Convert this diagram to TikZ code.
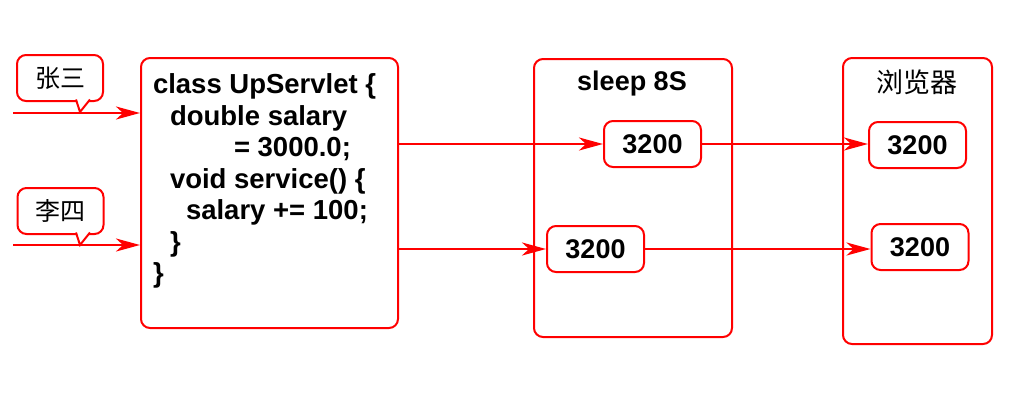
\documentclass[tikz,border=0pt]{standalone}
\usepackage{fontspec}
\setmainfont{Liberation Sans}
\newfontfamily\cjk{Noto Sans CJK SC}
\usetikzlibrary{arrows.meta}

\tikzset{every picture/.style={line width=2pt}}
\tikzset{
	box/.style={draw=red, rounded corners=9pt, line width=2pt, inner sep=0pt},
	valbox/.style={box, minimum width=97pt, minimum height=46pt, font=\fontsize{27}{30}\selectfont\bfseries},
	callout/.style={box, minimum width=86pt, minimum height=46pt, font=\cjk\fontsize{25}{27}\selectfont},
	tail/.style={draw=red, fill=white, line width=2pt, line join=miter},
	arr/.style={draw=red, line width=2.6pt, -{Stealth[length=24pt,width=13pt,inset=7pt]}}
}

\begin{document}
\begin{tikzpicture}[x=1pt,y=1pt,yscale=-1,xscale=1]
	\useasboundingbox (0,0) rectangle (1024,413);

	%Callouts
	\node [callout] (zs) at (60,78) {张三};
	\draw [tail] (76,99.5) -- (80,112) -- (90,99.5) ;
	\node [callout] (ls) at (60.5,211) {李四};
	\draw [tail] (76,232.5) -- (80,245) -- (90,232.5) ;

	%Servlet box
	\node [box, minimum width=257pt, minimum height=270pt] (servlet) at (269.5,193) {};
	\node [anchor=north west, inner sep=0pt, align=left, font=\fontsize{27.5}{31.5}\selectfont\bfseries] (code) at (152,73)
		{class UpServlet \{\\
		\hspace*{17pt}double salary\\
		\hspace*{81pt}= 3000.0;\\
		\hspace*{17pt}void service() \{\\
		\hspace*{33pt}salary += 100;\\
		\hspace*{17pt}\}\\
		\}};

	%Sleep box
	\node [box, minimum width=198pt, minimum height=278pt] (sleep) at (633,198) {};
	\node [font=\fontsize{27}{30}\selectfont\bfseries] (sleeptitle) at (632,84) {sleep 8S};
	\node [valbox] (sleepA) at (652.5,144) {3200};
	\node [valbox] (sleepB) at (595.5,249) {3200};

	%Browser box
	\node [box, minimum width=149pt, minimum height=286pt] (browser) at (917.5,201) {};
	\node [font=\cjk\fontsize{27}{29}\selectfont] (browsertitle) at (917,82) {浏览器};
	\node [valbox] (browserA) at (917.5,145) {3200};
	\node [valbox] (browserB) at (920,247) {3200};

	%Requests
	\coordinate (zsin) at (13,113);
	\coordinate (lsin) at (13,245);
	\draw [arr] (zsin) -- (zsin -| servlet.west) ;
	\draw [arr] (lsin) -- (lsin -| servlet.west) ;
	\draw [arr] (servlet.east |- sleepA.west) -- (sleepA.west) ;
	\draw [arr] (servlet.east |- sleepB.west) -- (sleepB.west) ;
	\draw [arr] (sleepA.east) -- (sleepA.east -| browserA.west) ;
	\draw [arr] (sleepB.east) -- (sleepB.east -| browserB.west) ;

\end{tikzpicture}
\end{document}
